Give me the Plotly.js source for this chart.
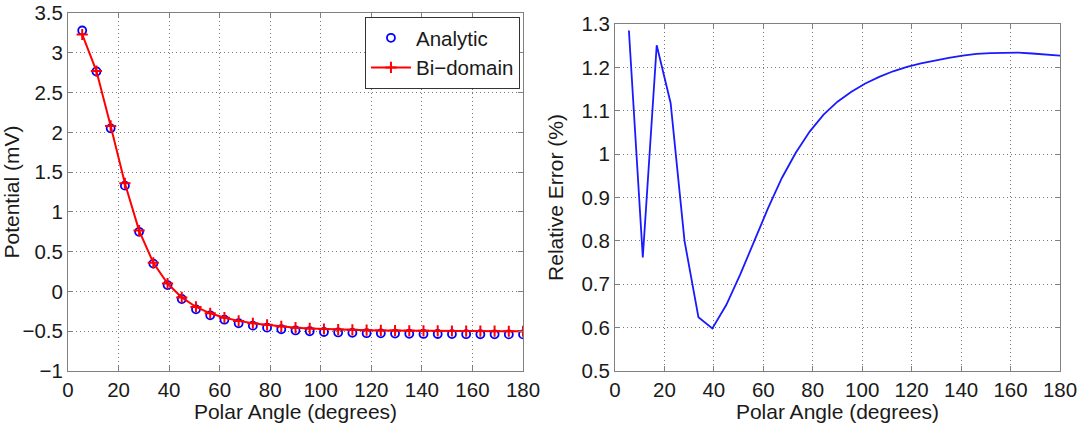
<!DOCTYPE html>
<html>
<head>
<meta charset="utf-8">
<script src="https://cdn.plot.ly/plotly-3.0.1.min.js"></script>
<style>
html,body{margin:0;padding:0;background:#fff;}
#chart{width:1083px;height:423px;}
</style>
</head>
<body>
<div id="chart"></div>
<script>
// Polar angles (degrees), step 180/32
const polarAngle = [5.625, 11.25, 16.875, 22.5, 28.125, 33.75, 39.375, 45,
  50.625, 56.25, 61.875, 67.5, 73.125, 78.75, 84.375, 90,
  95.625, 101.25, 106.875, 112.5, 118.125, 123.75, 129.375, 135,
  140.625, 146.25, 151.875, 157.5, 163.125, 168.75, 174.375, 180];

// Potential (mV) – analytic solution
const analytic = [3.28, 2.765, 2.05, 1.33, 0.75, 0.35, 0.08, -0.095,
  -0.225, -0.3, -0.355, -0.4, -0.43, -0.455, -0.475, -0.49,
  -0.5, -0.51, -0.515, -0.52, -0.525, -0.527, -0.53, -0.532,
  -0.534, -0.535, -0.536, -0.537, -0.538, -0.539, -0.54, -0.54];

// Potential (mV) – bi-domain model
const bidomain = [3.23, 2.77, 2.08, 1.36, 0.765, 0.36, 0.1, -0.075,
  -0.195, -0.275, -0.33, -0.37, -0.4, -0.42, -0.44, -0.455,
  -0.465, -0.472, -0.478, -0.483, -0.487, -0.49, -0.492, -0.494,
  -0.495, -0.496, -0.497, -0.498, -0.498, -0.499, -0.5, -0.5];

// Relative error (%)
const relError = [1.285, 0.762, 1.251, 1.118, 0.80, 0.624, 0.598, 0.652,
  0.722, 0.80, 0.875, 0.945, 1.003, 1.052, 1.091, 1.121,
  1.144, 1.163, 1.178, 1.191, 1.201, 1.209, 1.216, 1.222,
  1.227, 1.231, 1.233, 1.234, 1.234, 1.232, 1.23, 1.227];

const xTicks = [0, 20, 40, 60, 80, 100, 120, 140, 160, 180];

const FONT = 'Liberation Sans, Arial, sans-serif';
const gridColor = '#777777';
const axisColor = '#808080';
const tickTxt = {family: FONT, size: 20.5, color: '#1a1a1a'};
const titleTxt = {family: FONT, size: 21, color: '#1a1a1a'};

const traces = [
  {
    x: polarAngle, y: analytic, name: 'Analytic', type: 'scatter', mode: 'markers',
    marker: {symbol: 'circle-open', size: 8, color: '#0000ff', line: {width: 1.8, color: '#0000ff'}},
    xaxis: 'x', yaxis: 'y'
  },
  {
    x: polarAngle, y: bidomain, name: 'Bi\u2212domain', type: 'scatter', mode: 'lines+markers',
    line: {color: '#ff0000', width: 2},
    marker: {symbol: 'cross-thin-open', size: 8, color: '#ff0000', line: {width: 2, color: '#ff0000'}},
    xaxis: 'x', yaxis: 'y'
  },
  {
    x: polarAngle, y: relError, name: 'Relative Error', type: 'scatter', mode: 'lines',
    line: {color: '#1a1aff', width: 1.8},
    showlegend: false,
    xaxis: 'x2', yaxis: 'y2'
  }
];

const commonAxis = {
  showline: true, linecolor: axisColor, linewidth: 1, mirror: 'ticks',
  ticks: 'inside', ticklen: 5, tickcolor: axisColor,
  showgrid: true, gridcolor: gridColor, griddash: '1px,3px', gridwidth: 1,
  zeroline: false,
  automargin: false,
  tickfont: tickTxt
};

const layout = {
  width: 1083, height: 423,
  paper_bgcolor: '#ffffff', plot_bgcolor: '#ffffff',
  margin: {l: 68, r: 23, t: 13, b: 49},
  showlegend: true,
  legend: {
    x: 0.4556, y: 0.989, xanchor: 'right', yanchor: 'top',
    bgcolor: '#ffffff', bordercolor: '#333333', borderwidth: 1,
    font: tickTxt,
    tracegroupgap: 0, itemwidth: 40
  },
  xaxis: Object.assign({}, commonAxis, {
    domain: [0, 0.4587], range: [0, 180], tickvals: xTicks,
    title: {text: 'Polar Angle (degrees)', font: titleTxt},
    anchor: 'y'
  }),
  yaxis: Object.assign({}, commonAxis, {
    domain: [0.0083, 1], range: [-1, 3.5], dtick: 0.5, tick0: 0,
    title: {text: 'Potential (mV)', font: titleTxt},
    anchor: 'x'
  }),
  xaxis2: Object.assign({}, commonAxis, {
    domain: [0.5514, 1], range: [0, 180], tickvals: xTicks,
    title: {text: 'Polar Angle (degrees)', font: titleTxt},
    anchor: 'y2'
  }),
  yaxis2: Object.assign({}, commonAxis, {
    domain: [0.0083, 0.9695], range: [0.5, 1.3], dtick: 0.1, tick0: 0.5,
    title: {text: 'Relative Error (%)', font: titleTxt},
    anchor: 'x2'
  })
};

Plotly.newPlot('chart', traces, layout, {displayModeBar: false, staticPlot: true});
</script>
</body>
</html>
